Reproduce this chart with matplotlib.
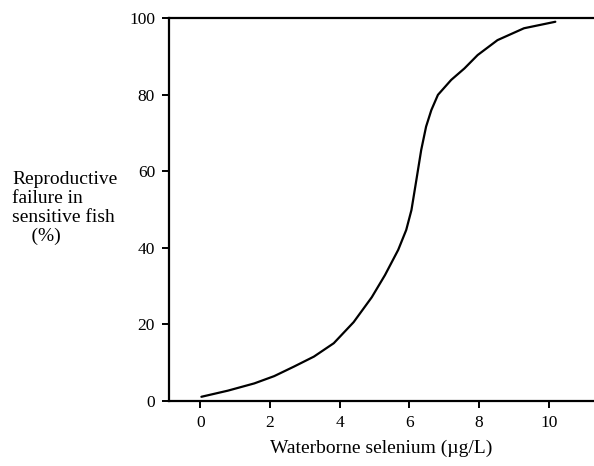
import matplotlib
matplotlib.use("Agg")
import matplotlib.pyplot as plt

# curve
selenium = [0.03, 0.79, 1.55, 2.12, 2.69, 3.26, 3.83, 4.40, 4.92,
            5.30, 5.68, 5.91, 6.06, 6.20, 6.34, 6.48, 6.63, 6.82, 7.20,
            7.58, 7.96, 8.53, 9.29, 10.19]
failure = [1.1, 2.7, 4.6, 6.5, 9.0, 11.6, 15.1, 20.6, 27.1,
           32.9, 39.5, 44.7, 49.9, 57.7, 65.6, 71.7, 76.0, 80.0, 83.9,
           86.9, 90.4, 94.3, 97.4, 99.1]

x_ticks = [0, 2, 4, 6, 8, 10]
y_ticks = [0, 20, 40, 60, 80, 100]

plt.rcParams['font.family'] = ['Liberation Serif', 'DejaVu Serif']

fig = plt.figure(figsize=(5.94, 4.66), dpi=100)
ax = fig.add_axes([0.2845, 0.1395, 0.7155, 0.8212])
ax.plot(selenium, failure, color='black', linewidth=1.6,
        solid_joinstyle='round', solid_capstyle='round')

ax.set_xlim(-0.9, 11.3)
ax.set_ylim(0, 100)
ax.set_xticks(x_ticks)
ax.set_yticks(y_ticks)
ax.tick_params(axis='both', direction='out', length=5, width=1.4,
               labelsize=12.5, colors='black', pad=5)

for side in ['left', 'bottom', 'top']:
    ax.spines[side].set_linewidth(1.6)
ax.spines['right'].set_visible(False)

ax.set_xlabel('Waterborne selenium (\u00b5g/L)', fontsize=14, labelpad=6)
fig.text(12 / 594, 1 - 208 / 466,
         'Reproductive\nfailure in\nsensitive fish\n    (%)',
         fontsize=14, ha='left', va='center', linespacing=1.15)

fig.savefig('out.png', dpi=100)
